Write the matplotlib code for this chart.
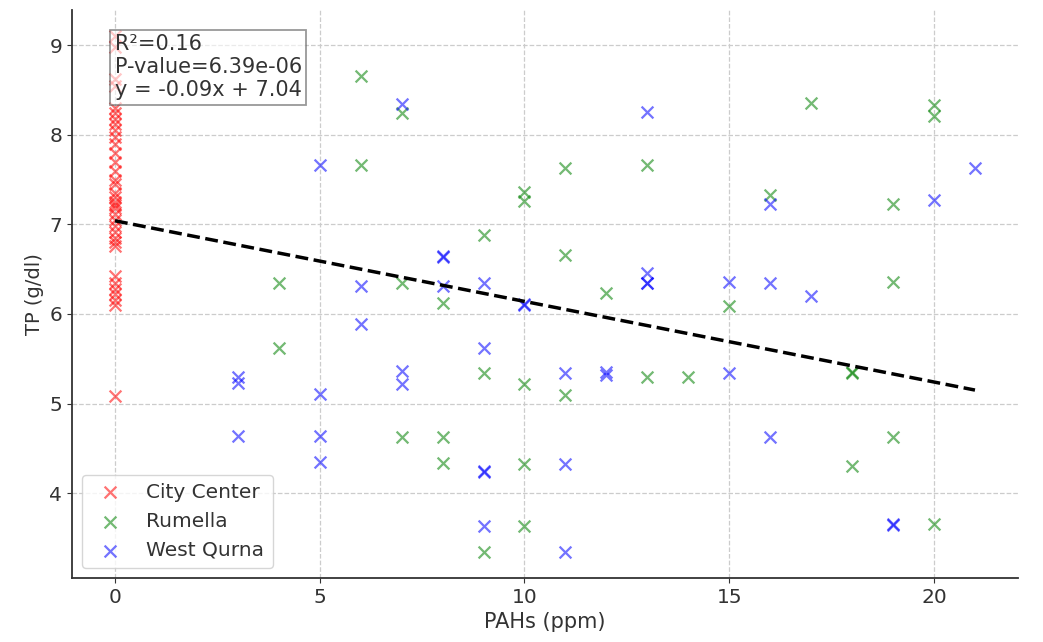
import matplotlib
matplotlib.use("Agg")
import matplotlib.pyplot as plt
import numpy as np

# PAHs (ppm) and total protein TP (g/dl) by site
city_center_tp = [9.1, 8.98, 8.62, 8.55, 8.3, 8.24, 8.18, 8.12, 8.05, 7.98, 7.9,
                  7.8, 7.7, 7.6, 7.5, 7.45, 7.35, 7.3, 7.25, 7.22, 7.18, 7.12,
                  7.05, 6.98, 6.92, 6.85, 6.8, 6.76, 6.42, 6.35, 6.28, 6.22,
                  6.16, 6.1, 5.08]
city_center_pahs = [0] * len(city_center_tp)

rumella_pahs = [4, 4, 6, 6, 7, 7, 7, 8, 8, 8, 9, 9, 9, 10, 10, 10, 10, 10,
                11, 11, 11, 12, 13, 13, 14, 15, 16, 17, 18, 18, 18, 19, 19,
                19, 20, 20, 20]
rumella_tp = [6.34, 5.62, 8.66, 7.66, 8.24, 6.34, 4.63, 6.12, 4.63, 4.34,
              6.88, 5.34, 3.34, 7.36, 7.26, 5.22, 4.33, 3.63, 7.63, 6.66, 5.1,
              6.23, 7.66, 5.3, 5.3, 6.09, 7.33, 8.35, 5.34, 5.35, 4.3, 7.23,
              6.36, 4.63, 8.33, 8.21, 3.66]

west_qurna_pahs = [3, 3, 3, 5, 5, 5, 5, 6, 6, 7, 7, 7, 8, 8, 8, 9, 9, 9, 9,
                   9, 10, 10, 11, 11, 11, 12, 12, 13, 13, 13, 13, 15, 15, 16,
                   16, 16, 17, 19, 19, 20, 21]
west_qurna_tp = [5.3, 5.23, 4.64, 7.66, 5.11, 4.64, 4.35, 6.31, 5.89, 8.34,
                 5.36, 5.22, 6.65, 6.64, 6.31, 6.34, 5.62, 4.25, 4.24, 3.63,
                 6.11, 6.1, 5.34, 4.33, 3.34, 5.35, 5.32, 8.26, 6.46, 6.35,
                 6.34, 6.36, 5.34, 7.23, 6.34, 4.63, 6.2, 3.66, 3.64, 7.27,
                 7.63]

# Regression summary
r_squared = 0.16
p_value = 6.39e-06
slope = -0.09
intercept = 7.04

fig = plt.figure(figsize=(10.43, 6.42), dpi=100)
ax = fig.add_axes([0.069, 0.0997, 0.907, 0.884])

scatter_kw = dict(marker="x", s=72, linewidths=1.6, alpha=0.55)
ax.scatter(city_center_pahs, city_center_tp, color="red", label="City Center", **scatter_kw)
ax.scatter(rumella_pahs, rumella_tp, color="green", label="Rumella", **scatter_kw)
ax.scatter(west_qurna_pahs, west_qurna_tp, color="blue", label="West Qurna", **scatter_kw)

all_x = np.concatenate([city_center_pahs, rumella_pahs, west_qurna_pahs])
x_line = np.array([all_x.min(), all_x.max()])
ax.plot(x_line, slope * x_line + intercept, color="black", linestyle="--", linewidth=2.5)

ax.set_xticks([0, 5, 10, 15, 20])
ax.set_yticks([4, 5, 6, 7, 8, 9])
ax.grid(True, linestyle="--", color="#cccccc", linewidth=0.9)
ax.set_axisbelow(True)
for side in ("top", "right"):
    ax.spines[side].set_visible(False)
for side in ("left", "bottom"):
    ax.spines[side].set_color("#333333")
    ax.spines[side].set_linewidth(1.3)
ax.tick_params(labelsize=14.5, colors="#333333")

ax.set_xlabel("PAHs (ppm)", fontsize=15, color="#333333")
ax.set_ylabel("TP (g/dl)", fontsize=14, color="#333333")

ax.text(0.045, 0.958,
        f"R\u00b2={r_squared:.2f}\nP-value={p_value:.2e}\ny = {slope:.2f}x + {intercept:.2f}",
        transform=ax.transAxes, fontsize=15, color="#333333", va="top", ha="left",
        linespacing=1.18,
        bbox=dict(boxstyle="square,pad=0.22", facecolor="white", alpha=0.6,
                  edgecolor="#555555", linewidth=1.3))

ax.legend(loc="lower left", fontsize=14.5, frameon=True, labelcolor="#333333",
          borderaxespad=0.5, handletextpad=0.8)

fig.savefig("out.png", dpi=100)
